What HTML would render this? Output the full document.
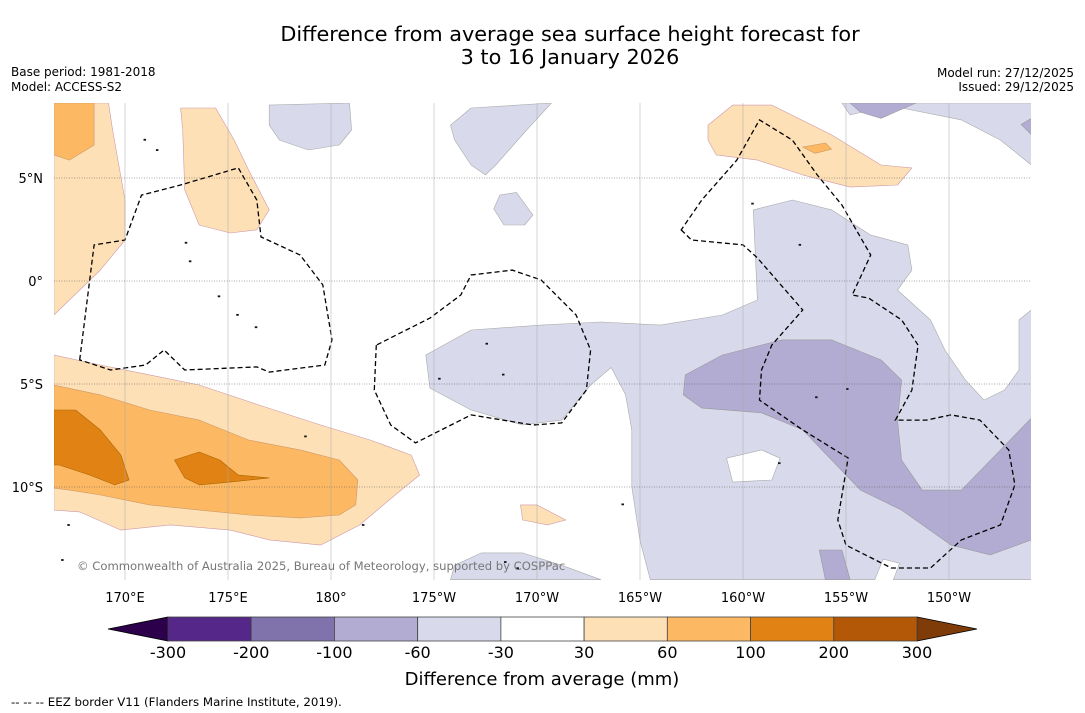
<!DOCTYPE html>
<html><head><meta charset="utf-8"><style>
body{margin:0;background:#fff;font-family:"DejaVu Sans","Liberation Sans",sans-serif}
svg{display:block;font-family:"DejaVu Sans","Liberation Sans",sans-serif}
</style></head><body>
<svg id="c" width="1085" height="713" viewBox="0 0 1085 713">
<rect width="1085" height="713" fill="#fff"/>
<text x="570" y="41" text-anchor="middle" font-size="20.8" fill="#000">Difference from average sea surface height forecast for</text>
<text x="570" y="64" text-anchor="middle" font-size="20.8" fill="#000">3 to 16 January 2026</text>
<text x="11" y="76" font-size="12">Base period: 1981-2018</text>
<text x="11" y="91" font-size="12">Model: ACCESS-S2</text>
<text x="1074" y="77" text-anchor="end" font-size="12">Model run: 27/12/2025</text>
<text x="1074" y="91" text-anchor="end" font-size="12">Issued: 29/12/2025</text>
<g id="map"></g>
<g id="cbar"></g>
<text x="542" y="685" text-anchor="middle" font-size="18">Difference from average (mm)</text>
<text x="11" y="706" font-size="11.8">--  --  -- EEZ border V11 (Flanders Marine Institute, 2019).</text>
</svg>
<script>
const lonTicks=[170,175,180,185,190,195,200,205,210];
const lonLabels=["170°E","175°E","180°","175°W","170°W","165°W","160°W","155°W","150°W"];
const latTicks=[5,0,-5,-10];
const latLabels=["5°N","0°","5°S","10°S"];
const cbBounds=[-300,-200,-100,-60,-30,30,60,100,200,300];
const cbColors=["#542788","#8073ac","#b2abd2","#d8daeb","#ffffff","#fee0b6","#fdb863","#e08214","#b35806"];
const lpMain=[[184.6,-3.59],[186.8,-2.38],[190.2,-2.14],[193.1,-1.99],[196,-2.14],[199,-1.65],[200.7,-0.92],[200.5,3.45],[202.4,3.93],[204.3,3.45],[206.2,2.23],[208,1.75],[208.2,0.53],[207.5,-0.44],[209.1,-1.89],[209.8,-3.35],[210.8,-4.81],[211.7,-5.78],[212.7,-5.29],[213.4,-4.32],[213.4,-1.89],[214,-1.41],[214,-14.5],[207.3,-14.5],[207.6,-13.7],[206.8,-13.5],[206.4,-14.5],[195.5,-14.5],[195,-12.6],[194.6,-10],[194.6,-7.23],[194.3,-5.53],[193.6,-4.2],[192.6,-5.05],[191.2,-6.75],[189.3,-6.99],[186.8,-6.26],[184.8,-5.2]];
const lpTL=[[177,8.54],[180.9,8.64],[181,7.33],[180.4,6.6],[178.9,6.36],[177.5,6.84],[177,7.57]];
const lpT2=[[185.8,7.57],[186.8,8.4],[190.7,8.64],[189.5,7.33],[188,5.63],[187.5,5.15],[186.8,5.63],[186,6.84]];
const lpTR=[[204.8,8.64],[214,8.64],[214,5.63],[212.5,6.84],[210.6,7.82],[207.7,8.4],[206.2,8.3],[205.2,8.06]];
const lpBlob=[[188.2,4.17],[189,4.3],[189.8,3.2],[189.4,2.72],[188.4,2.72],[187.9,3.5]];
const lpBot=[[186,-13.8],[187.3,-13.2],[189.3,-13.2],[191.2,-13.8],[193.1,-14.5],[185.8,-14.5]];
const mpMain=[[197.2,-4.56],[199,-3.59],[201.9,-2.86],[204.3,-2.86],[206.7,-3.83],[207.7,-4.81],[207.5,-6.75],[207.7,-8.69],[208.7,-10.15],[210.6,-10.15],[212.5,-8.2],[214,-6.65],[214,-12.57],[212,-13.3],[210.1,-12.82],[207.7,-11.12],[205.7,-10.15],[204.3,-8.69],[202.9,-7.23],[200.9,-6.4],[198,-6.17],[197.1,-5.53]];
const mpTR=[[205.2,8.64],[208.4,8.64],[206.7,7.9],[205.7,8.2]];
const mpTR2=[[213.5,7.6],[214,7.9],[214,7.1]];
const mpBot=[[203.7,-13.06],[204.8,-13.06],[205.2,-14.5],[204,-14.5]];
const whiteHole=[[199.2,-8.6],[200.9,-8.2],[201.8,-8.6],[201.4,-9.66],[199.5,-9.76]];
const oL1=[[166.55,8.64],[169.2,8.64],[169.4,7.33],[170,3.93],[170,1.99],[168.8,0.53],[166.55,-1.65]];
const oL2=[[166.55,8.64],[168.5,8.64],[168.5,6.6],[167.3,5.87],[166.55,6.12]];
const oTC=[[172.7,8.4],[174.4,8.4],[175.3,6.84],[176,5.39],[177,3.45],[176.4,2.48],[175.1,2.33],[173.6,2.72],[172.9,4.42],[172.8,7.33]];
const oTR=[[198.3,7.57],[199.5,8.54],[201.4,8.54],[204.3,7.09],[206.7,5.63],[208.2,5.49],[207.5,4.66],[205.2,4.56],[202.9,5.15],[200.7,5.87],[198.7,6.12],[198.3,6.84]];
const oTRs=[[202.9,6.5],[204,6.7],[204.3,6.4],[203.5,6.2]];
const oB1=[[166.55,-3.59],[168.8,-4.08],[171.2,-4.56],[173.6,-5.05],[176.5,-6.02],[179.5,-6.99],[181.9,-7.72],[183.9,-8.45],[184.3,-9.42],[183.4,-10.15],[181.4,-11.84],[179.5,-12.82],[177,-12.57],[175.1,-12.09],[172.2,-11.84],[169.8,-12.09],[167.8,-11.21],[166.55,-11.12]];
const oB2=[[166.55,-5.05],[168.8,-5.53],[171.2,-6.26],[173.6,-6.75],[176,-7.72],[178.5,-8.2],[180.4,-8.69],[181.3,-9.66],[181.2,-10.87],[180.4,-11.36],[178.5,-11.5],[176,-11.36],[173.6,-11.12],[171.2,-10.87],[168.8,-10.39],[167.3,-10.15],[166.55,-10.05]];
const oB3=[[166.55,-6.26],[167.6,-6.26],[168.8,-7.23],[169.8,-8.45],[170.2,-9.66],[169.5,-9.9],[168.3,-9.42],[166.8,-8.93],[166.55,-8.93]];
const oB4=[[172.4,-8.69],[173.6,-8.3],[174.6,-8.69],[175.5,-9.42],[177,-9.56],[175.1,-9.76],[173.6,-9.9],[172.9,-9.56]];
const oSm=[[189.2,-10.87],[190,-10.87],[191.4,-11.6],[190.5,-11.84],[189.3,-11.6]];
const eezW=[[167.8,-3.83],[168.5,1.75],[170,1.99],[170.8,4.17],[172.7,4.66],[175.5,5.49],[176.4,3.93],[176.6,2.14],[178.5,1.26],[179.6,-0.19],[180.05,-2.86],[179.7,-4.08],[177,-4.42],[176.4,-4.17],[172.9,-4.32],[171.9,-3.35],[171,-4.08],[169.3,-4.32]];
const eezC=[[182.2,-3.11],[182.1,-5.29],[182.9,-6.99],[184.1,-7.86],[186.8,-6.5],[189.8,-6.99],[191.2,-6.89],[192.4,-5.29],[192.6,-3.35],[191.9,-1.65],[190.2,0.05],[188.8,0.53],[186.8,0.29],[186.3,-0.68],[184.8,-1.8],[182.7,-2.86]];
const eezE=[[197,2.48],[197.5,1.99],[200,1.75],[200.7,1.12],[202.9,-1.41],[201.4,-3.11],[200.9,-4.32],[200.8,-5.78],[202.9,-7.23],[205.1,-8.59],[204.6,-11.6],[205,-12.82],[207.2,-13.93],[209.1,-13.93],[210.6,-12.57],[212.5,-11.84],[213.2,-9.9],[212.9,-8.2],[211.5,-6.75],[210.1,-6.5],[208.9,-6.75],[207.4,-6.75],[208.2,-5.29],[208.5,-3.11],[207.7,-1.89],[206.1,-0.83],[205.3,-0.68],[206.2,1.26],[204.8,3.69],[203.6,5.15],[202.4,6.84],[200.8,7.82],[199.7,5.87],[198,3.93]];
const islands=[[170.9,6.9],[171.5,6.4],[172.9,1.9],[173.1,1.0],[174.5,-0.7],[175.4,-1.6],[176.3,-2.2],[181.5,-11.8],[187.5,-3.0],[188.3,-4.5],[188.4,-13.6],[189,-13.9],[194.1,-10.8],[201.7,-8.8],[202.7,1.8],[200.4,3.8],[205,-5.2],[203.5,-5.6],[166.9,-13.5],[167.2,-11.8],[185.2,-4.7],[178.7,-7.5]];

const NS='http://www.w3.org/2000/svg';
const L0=54,L1=1031,T0=103,T1=580;
const X=lon=>125+(lon-170)*20.6;
const Y=lat=>281-lat*20.6;
const map=document.getElementById('map');
function mk(tag,attrs,parent){const e=document.createElementNS(NS,tag);for(const k in attrs)e.setAttribute(k,attrs[k]);parent.appendChild(e);return e;}
const defs=mk('defs',{},map);
const cp=mk('clipPath',{id:'clip'},defs);
mk('rect',{x:L0,y:T0,width:L1-L0,height:T1-T0},cp);
const g=mk('g',{'clip-path':'url(#clip)'},map);
function poly(pts,fill,stroke,name){
  const p=mk('polygon',{points:pts.map(q=>X(q[0]).toFixed(1)+','+Y(q[1]).toFixed(1)).join(' '),fill:fill,stroke:stroke,'stroke-width':0.6,'stroke-linejoin':'round'},g);
  
  
  return p;
}
const c=cbColors;
poly(lpMain,c[3],'#aaa','contour-minus30-main');
poly(lpTL,c[3],'#aaa','contour-minus30-northwest');
poly(lpT2,c[3],'#aaa','contour-minus30-north');
poly(lpTR,c[3],'#aaa','contour-minus30-northeast');
poly(lpBlob,c[3],'#aaa','contour-minus30-blob');
poly(lpBot,c[3],'#aaa','contour-minus30-south');
poly(mpMain,c[2],'#999','contour-minus60-main');
poly(mpTR,c[2],'#999','contour-minus60-northeast');
poly(mpTR2,c[2],'#999','contour-minus60-edge');
poly(mpBot,c[2],'#999','contour-minus60-south');
poly(whiteHole,'#fff','#aaa','contour-neutral-hole');
poly(oL1,c[5],'#c9a','contour-30-west');
poly(oL2,c[6],'#c96','contour-60-west');
poly(oTC,c[5],'#c9a','contour-30-north');
poly(oTR,c[5],'#c9a','contour-30-northeast');
poly(oTRs,c[6],'#c96','contour-60-northeast');
poly(oB1,c[5],'#c9a','contour-30-southwest');
poly(oB2,c[6],'#c96','contour-60-southwest');
poly(oB3,c[7],'#a60','contour-100-southwest');
poly(oB4,c[7],'#a60','contour-100-south');
poly(oSm,c[5],'#c9a','contour-30-small');
lonTicks.forEach((lon,i)=>{
  const l=mk('line',{x1:X(lon),x2:X(lon),y1:T0,y2:T1,stroke:'#aaa','stroke-width':0.5},map);
  
  
  const t=mk('text',{x:X(lon),y:602,'text-anchor':'middle','font-size':13},map);
  t.textContent=lonLabels[i];
  
  
});
latTicks.forEach((lat,i)=>{
  const l=mk('line',{x1:L0,x2:L1,y1:Y(lat),y2:Y(lat),stroke:'#555','stroke-width':0.6,'stroke-dasharray':'1 1.5'},map);
  
  
  const t=mk('text',{x:43,y:Y(lat)+5,'text-anchor':'end','font-size':13},map);
  t.textContent=latLabels[i];
  
  
});
islands.forEach(p=>{
  const e=mk('rect',{x:X(p[0]),y:Y(p[1]),width:2.5,height:1.8,fill:'#111'},g);
  
  
});
[[eezW,'eez-border-west'],[eezC,'eez-border-central'],[eezE,'eez-border-east']].forEach(([pts,n])=>{
  const e=mk('polygon',{points:pts.map(q=>X(q[0]).toFixed(1)+','+Y(q[1]).toFixed(1)).join(' '),fill:'none',stroke:'#000','stroke-width':1.3,'stroke-dasharray':'5 3'},g);
  
  
});
const cr=mk('text',{x:77,y:570,'font-size':11.6,fill:'#777'},map);
cr.textContent='© Commonwealth of Australia 2025, Bureau of Meteorology, supported by COSPPac';


const cb=document.getElementById('cbar');
const cbX0=168,cbX1=917,cbY=617,cbH=24;
const segW=(cbX1-cbX0)/cbColors.length;
const la=mk('polygon',{points:`108,${cbY+cbH/2} ${cbX0},${cbY} ${cbX0},${cbY+cbH}`,fill:'#2d004b',stroke:'#000','stroke-width':0.8},cb);


const ra=mk('polygon',{points:`977,${cbY+cbH/2} ${cbX1},${cbY} ${cbX1},${cbY+cbH}`,fill:'#7f3b08',stroke:'#000','stroke-width':0.8},cb);


cbColors.forEach((col,i)=>{
  const r=mk('rect',{x:cbX0+i*segW,y:cbY,width:segW,height:cbH,fill:col,stroke:'#444','stroke-width':0.8},cb);
  
  
});
cbBounds.forEach((b,i)=>{
  const t=mk('text',{x:cbX0+i*segW,y:658,'text-anchor':'middle','font-size':16},cb);
  t.textContent=b;
  
  
});
</script>
</body></html>
